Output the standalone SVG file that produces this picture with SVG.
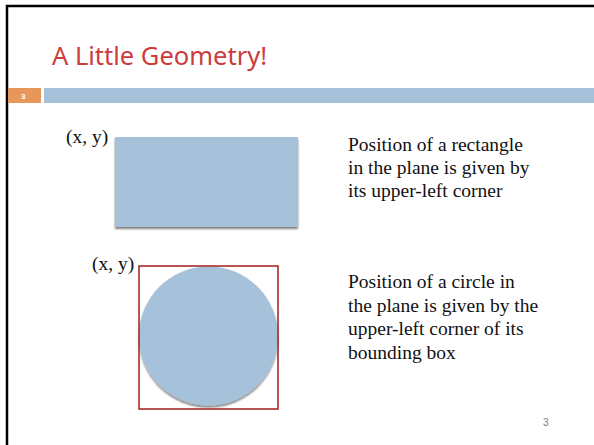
<svg xmlns="http://www.w3.org/2000/svg" width="594" height="445" viewBox="0 0 594 445">
<defs>
<style>
.serif{font-family:"Liberation Serif","Times New Roman",serif;font-size:19.5px;fill:#111}
.lbl{font-family:"Liberation Serif","Times New Roman",serif;font-size:19.5px;fill:#111}
.shape{fill:#a5c2da}
</style>
<filter id="sh" x="-10%" y="-10%" width="120%" height="130%">
<feGaussianBlur in="SourceAlpha" stdDeviation="1.2"/>
<feOffset dx="0" dy="2" result="b"/>
<feComponentTransfer><feFuncA type="linear" slope="0.5"/></feComponentTransfer>
<feMerge><feMergeNode/><feMergeNode in="SourceGraphic"/></feMerge>
</filter>
</defs>
<rect x="0" y="0" width="594" height="445" fill="#fff"/>
<path d="M7 445 V6 H594" fill="none" stroke="#000" stroke-width="2.5"/>
<text x="52" y="65" font-family="'Noto Sans','Liberation Sans',sans-serif" font-size="25.5" fill="#cc3c3c">A Little Geometry!</text>
<rect x="8" y="88" width="33" height="15" fill="#e8975a"/>
<text x="21" y="99" font-family="'Liberation Sans',sans-serif" font-size="8" font-weight="bold" fill="#fff">3</text>
<rect x="44" y="88" width="550" height="15" fill="#a5c2da"/>
<g id="rect-node">
<text class="lbl" x="66" y="143">(x, y)</text>
<rect class="shape" x="115" y="137" width="183" height="90" filter="url(#sh)"/>
</g>
<g id="circle-node">
<text class="lbl" x="92" y="270">(x, y)</text>
<circle class="shape" cx="208.5" cy="336" r="69.5" filter="url(#sh)"/>
<rect x="139" y="266" width="139" height="143" fill="none" stroke="#a01e1a" stroke-width="1.5"/>
</g>
<g id="text1">
<text class="serif" x="348" y="151">Position of a rectangle</text>
<text class="serif" x="348" y="174">in the plane is given by</text>
<text class="serif" x="348" y="197">its upper-left corner</text>
</g>
<g id="text2">
<text class="serif" x="348" y="288">Position of a circle in</text>
<text class="serif" x="348" y="311.5">the plane is given by the</text>
<text class="serif" x="348" y="335">upper-left corner of its</text>
<text class="serif" x="348" y="358.5">bounding box</text>
</g>
<text x="543" y="426" font-family="'Liberation Sans',sans-serif" font-size="10" fill="#777">3</text>
<g id="connectors"/>
</svg>
